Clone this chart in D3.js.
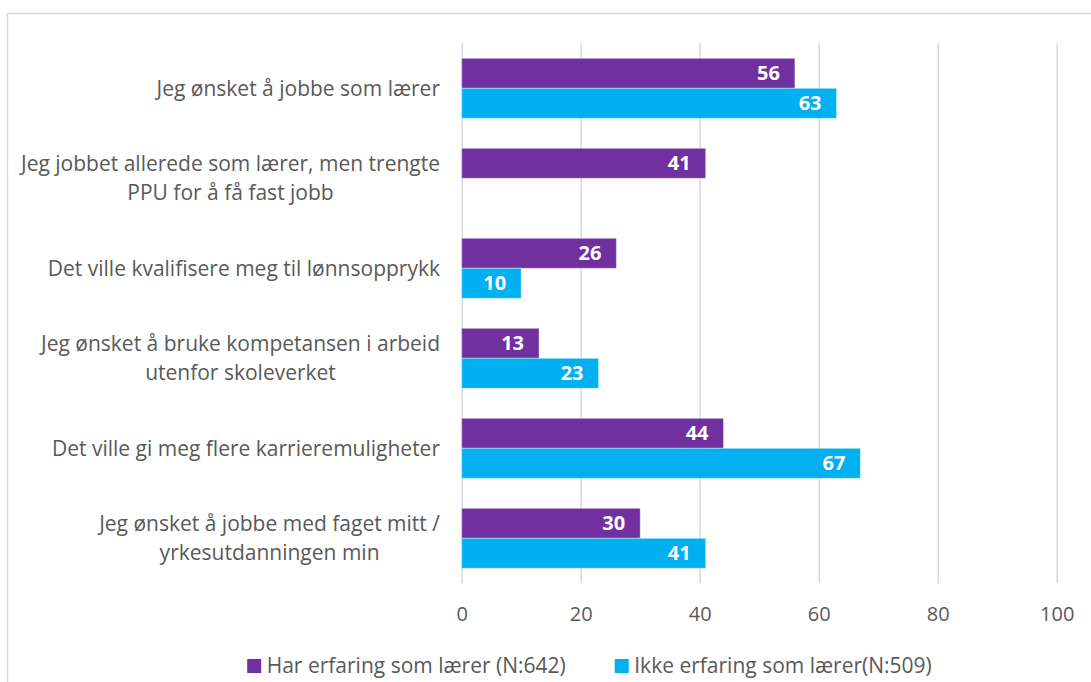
<!DOCTYPE html>
<html>
<head>
<meta charset="utf-8">
<script src="https://cdn.jsdelivr.net/npm/d3@7"></script>
<style>
  body { margin: 0; background: #fff; }
  text { font-family: "Open Sans", "Liberation Sans", sans-serif; }
</style>
</head>
<body>
<div class="chart"></div>
<script>
// data
var categories = [
  'Jeg ønsket å jobbe som lærer',
  'Jeg jobbet allerede som lærer, men trengte\nPPU for å få fast jobb',
  'Det ville kvalifisere meg til lønnsopprykk',
  'Jeg ønsket å bruke kompetansen i arbeid\nutenfor skoleverket',
  'Det ville gi meg flere karrieremuligheter',
  'Jeg ønsket å jobbe med faget mitt /\nyrkesutdanningen min'
];
var seriesNames = ['Har erfaring som lærer (N:642)', 'Ikke erfaring som lærer(N:509)'];
var harErfaring = [56, 41, 26, 13, 44, 30];
var ikkeErfaring = [63, null, 10, 23, 67, 41];
var xTicks = [0, 20, 40, 60, 80, 100];
var colors = ['#7030A0', '#00B0F0'];

var width = 1091, height = 682;
var svg = d3.select('.chart')
  .append('svg')
  .attr('width', width)
  .attr('height', height);

// chart border
svg.append('rect')
  .attr('x', 7.5)
  .attr('y', 13.5)
  .attr('width', 1100)
  .attr('height', 700)
  .style('fill', '#fff')
  .style('stroke', '#d9d9d9')
  .style('stroke-width', 1.5);

var xScale = d3.scaleLinear()
  .domain([0, 100])
  .range([461.7, 1056.7]);

var yScale = d3.scaleBand()
  .domain(categories)
  .range([43.3, 583.3])
  .paddingInner(1 / 3)
  .paddingOuter(1 / 6);

var ySub = d3.scaleBand()
  .domain([0, 1])
  .range([0, yScale.bandwidth()]);

// gridlines + tick labels
var xAxis = d3.axisBottom(xScale)
  .tickValues(xTicks)
  .tickSize(-(583.3 - 43.3));
var gAxis = svg.append('g')
  .attr('transform', 'translate(0, 583.3)')
  .call(xAxis);
gAxis.select('.domain').remove();
gAxis.selectAll('.tick line')
  .style('stroke', '#d9d9d9')
  .style('stroke-width', 1.5);
gAxis.selectAll('.tick text')
  .style('fill', '#595959')
  .style('font-size', '20px')
  .attr('y', 30.5)
  .attr('dy', '0.35em');

// bars
var rows = categories.map((c, i) => ({
  cat: c,
  values: [harErfaring[i], ikkeErfaring[i]]
}));

var groups = svg.selectAll('.group')
  .data(rows)
  .enter()
  .append('g')
  .attr('class', 'group')
  .attr('transform', d => `translate(0, ${yScale(d.cat)})`);

var bars = groups.selectAll('.bar')
  .data(d => d.values.map((v, j) => ({ v: v, j: j })).filter(d => d.v != null))
  .enter()
  .append('g')
  .attr('class', 'bar');

bars.append('rect')
  .attr('x', xScale(0))
  .attr('y', d => ySub(d.j))
  .attr('width', d => xScale(d.v) - xScale(0))
  .attr('height', ySub.bandwidth())
  .style('fill', d => colors[d.j])
  .style('stroke', '#fff')
  .style('stroke-opacity', 0.4)
  .style('stroke-width', 1);

bars.append('text')
  .attr('x', d => xScale(d.v) - 15)
  .attr('y', d => ySub(d.j) + ySub.bandwidth() / 2)
  .attr('dy', '0.36em')
  .style('text-anchor', 'end')
  .style('fill', '#fff')
  .style('font-weight', 'bold')
  .style('font-size', '20px')
  .text(d => d.v);

// category labels, wrapped lines centred in a right-aligned block
var labelRight = 440;
var lineGap = 29;
categories.forEach(function (c) {
  var lines = c.split('\n');
  var g = svg.append('g');
  var texts = g.selectAll('text')
    .data(lines)
    .enter()
    .append('text')
    .attr('y', (d, k) => yScale(c) + yScale.bandwidth() / 2 + (k - (lines.length - 1) / 2) * lineGap)
    .attr('dy', '0.35em')
    .style('text-anchor', 'middle')
    .style('fill', '#595959')
    .style('font-size', '21px')
    .text(d => d);
  var maxW = d3.max(texts.nodes(), n => n.getComputedTextLength());
  texts.attr('x', labelRight - maxW / 2);
});

// legend
var legend = svg.append('g');
var items = legend.selectAll('.item')
  .data(seriesNames)
  .enter()
  .append('g')
  .attr('class', 'item');
items.append('rect')
  .attr('width', 14)
  .attr('height', 14)
  .attr('y', -7)
  .style('fill', (d, i) => colors[i]);
items.append('text')
  .attr('x', 19.5)
  .attr('dy', '0.35em')
  .style('fill', '#595959')
  .style('font-size', '21px')
  .text(d => d);
var lx = 0;
items.each(function () {
  d3.select(this).attr('transform', `translate(${lx}, 0)`);
  lx += this.getBBox().width + 49;
});
var legendW = lx - 49;
legend.attr('transform', `translate(${589.5 - legendW / 2}, 666)`);
</script>
</body>
</html>
